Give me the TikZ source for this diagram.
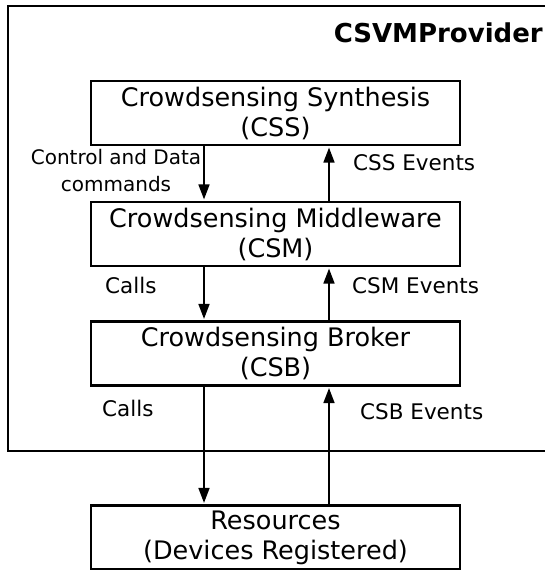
\documentclass[tikz,border=0pt]{standalone}
\usepackage{fontspec}
\setmainfont{DejaVu Sans}
\usetikzlibrary{arrows.meta}

\begin{document}
\begin{tikzpicture}
        [x=1pt,y=-1pt,
         layer/.style={draw, line width=2.6pt, inner sep=0pt, minimum width=369pt, minimum height=64pt, align=center, font=\fontsize{25.5}{30}\selectfont},
         lbl/.style={inner sep=0pt, anchor=west, font=\fontsize{21.5}{27}\selectfont},
         flow/.style={line width=1.7pt, shorten >=1.3pt, -{Triangle[length=15pt,width=11pt]}}]
      \useasboundingbox (0,0) rectangle (545,570);
      \clip (0,0) rectangle (545,570);
      \draw[line width=1.8pt] (8,6) rectangle (560,451);
      \node[anchor=east, inner sep=0pt, font=\bfseries\fontsize{26}{30}\selectfont] (title) at (543,32.5) {CSVMProvider};

      \node[layer] (css) at (275.5,113) {Crowdsensing Synthesis\\(CSS)};
      \node[layer] (csm) at (275.5,234) {Crowdsensing Middleware\\(CSM)};
      \node[layer] (csb) at (275.5,353.5) {Crowdsensing Broker\\(CSB)};
      \node[layer] (res) at (275.5,537.5) {Resources\\(Devices Registered)};

      \coordinate (dn) at (204,0);
      \coordinate (up) at (329,0);

      \node[lbl, anchor=center, align=center, font=\fontsize{20}{27}\selectfont] (ctrl) at (116,171) {Control and Data\\commands};
      \node[lbl] (cssev) at (353,162.5) {CSS Events};
      \node[lbl] (calls1) at (105,285.5) {Calls};
      \node[lbl] (csmev) at (352,285.5) {CSM Events};
      \node[lbl] (calls2) at (102,408) {Calls};
      \node[lbl] (csbev) at (360,412) {CSB Events};

      \foreach \from/\to in {css/csm, csm/csb, csb/res}
        {
        \draw[flow] (\from.south -| dn) -- (\to.north -| dn);
        \draw[flow] (\to.north -| up) -- (\from.south -| up);
        }
    \end{tikzpicture}
\end{document}
